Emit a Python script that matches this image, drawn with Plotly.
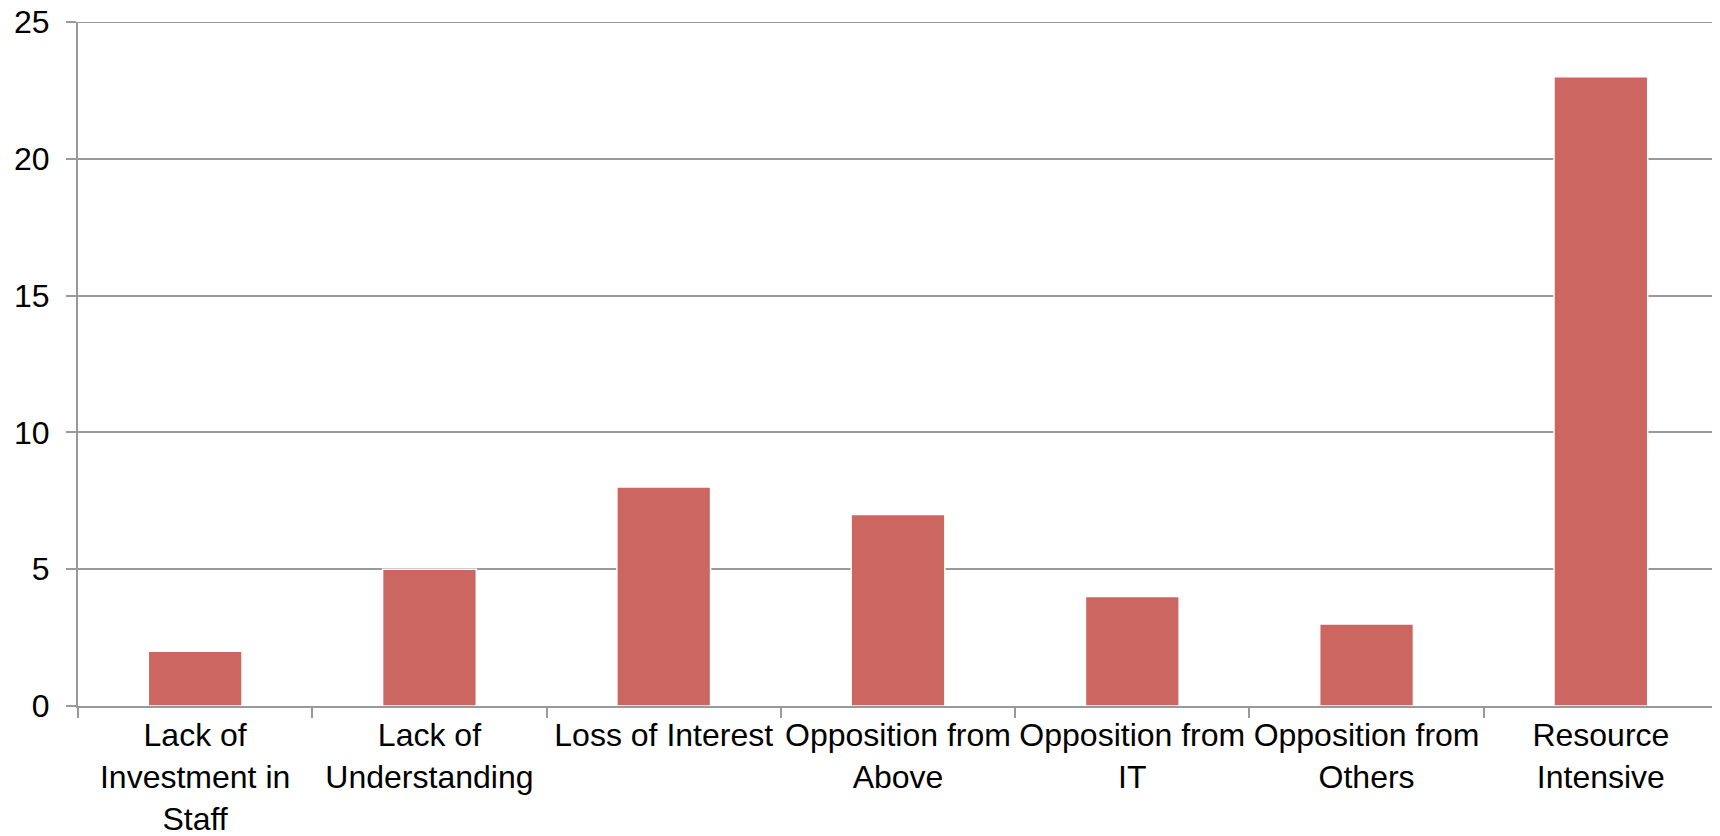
import plotly.graph_objects as go

categories = ["Lack of<br>Investment in<br>Staff", "Lack of<br>Understanding", "Loss of Interest",
              "Opposition from<br>Above", "Opposition from<br>IT", "Opposition from<br>Others",
              "Resource<br>Intensive"]
values = [2, 5, 8, 7, 4, 3, 23]
y_ticks = [0, 5, 10, 15, 20, 25]
y_max = 25

fig = go.Figure()
fig.add_trace(go.Bar(
    x=categories, y=values,
    marker=dict(color="#CC6660", line=dict(color="#FFFFFF", width=1.5)),
    width=0.4,
))

fig.update_layout(
    width=1712, height=828,
    margin=dict(l=70, r=2, t=14, b=130),
    plot_bgcolor="white", paper_bgcolor="white",
    font=dict(family="Liberation Sans, Arial, sans-serif", size=32, color="black"),
    showlegend=False,
)
# top gridline + tick (plotly hides the gridline at the very edge)
fig.add_shape(type="line", xref="paper", yref="y", x0=-10 / 1640, x1=1, y0=y_max, y1=y_max,
              line=dict(color="#999999", width=2), layer="below")
fig.update_xaxes(
    showline=True, linecolor="#999999", linewidth=2,
    ticks="outside", tickson="boundaries", ticklen=10, tickcolor="#999999", tickwidth=2,
    showgrid=False, tickfont=dict(size=32), automargin=False, tickangle=0,
)
fig.update_yaxes(
    range=[0, y_max], tickvals=y_ticks,
    showline=True, linecolor="#999999", linewidth=2,
    showgrid=True, gridcolor="#999999", gridwidth=2,
    ticks="outside", ticklen=10, tickcolor="#999999", tickwidth=2,
    zeroline=False, tickfont=dict(size=32), ticklabelstandoff=10, automargin=False,
    ticklabeloverflow="allow",
)
fig.write_html("out.html")
